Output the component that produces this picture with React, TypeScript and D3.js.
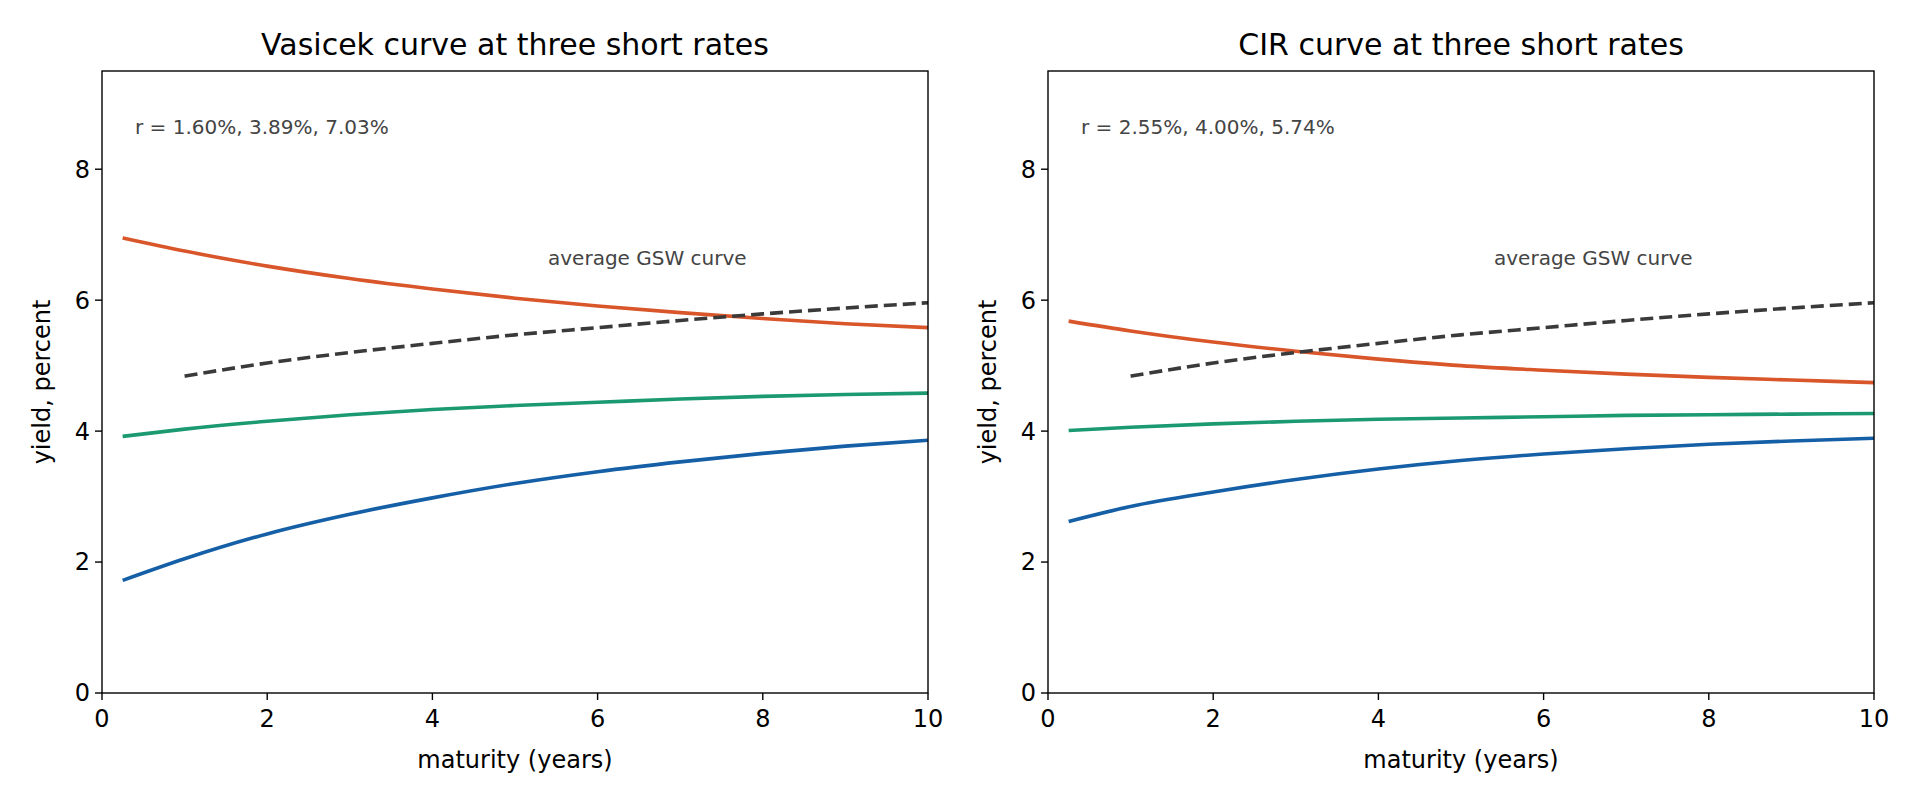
import * as d3 from "d3";

// maturities in years
const maturities = [0.25, 1, 2, 3, 4, 5, 6, 7, 8, 9, 10];
const gswMaturities = [1, 2, 3, 4, 5, 6, 7, 8, 9, 10];

const vasHigh = [6.95, 6.75, 6.52, 6.33, 6.17, 6.03, 5.91, 5.81, 5.72, 5.64, 5.58];
const vasMid = [3.92, 4.03, 4.15, 4.25, 4.33, 4.39, 4.44, 4.49, 4.53, 4.56, 4.58];
const vasLow = [1.72, 2.05, 2.43, 2.73, 2.98, 3.2, 3.38, 3.53, 3.66, 3.77, 3.86];

const cirHigh = [5.68, 5.53, 5.36, 5.22, 5.1, 5.0, 4.93, 4.87, 4.82, 4.78, 4.74];
const cirMid = [4.01, 4.06, 4.11, 4.15, 4.18, 4.2, 4.22, 4.24, 4.25, 4.26, 4.27];
const cirLow = [2.62, 2.85, 3.07, 3.26, 3.42, 3.55, 3.65, 3.73, 3.8, 3.85, 3.89];

const gswAvg = [4.84, 5.04, 5.2, 5.34, 5.47, 5.58, 5.69, 5.79, 5.88, 5.96];

const xTicks = [0, 2, 4, 6, 8, 10];
const yTicks = [0, 2, 4, 6, 8];

const RED = "#d9552a";
const GREEN = "#1b9a72";
const BLUE = "#155fa6";
const FONT = "DejaVu Sans, sans-serif";

interface PanelProps {
  left: number;
  title: string;
  note: string;
  high: number[];
  mid: number[];
  low: number[];
}

function Panel({ left, title, note, high, mid, low }: PanelProps) {
  const w = 826, top = 71, h = 622;
  const x = d3.scaleLinear().domain([0, 10]).range([0, w]);
  const y = d3.scaleLinear().domain([0, 9.5]).range([h, 0]);
  const line = (xs: number[], ys: number[]) =>
    d3.line<number>().x((_, i) => x(xs[i])).y((d) => y(d)).curve(d3.curveMonotoneX)(ys) || "";

  return (
    <g transform={`translate(${left},${top})`} fontFamily={FONT}>
      <text x={w / 2} y={-16} textAnchor="middle" fontSize={30}>{title}</text>
      <path d={line(maturities, high)} fill="none" stroke={RED} strokeWidth={3.6} />
      <path d={line(maturities, mid)} fill="none" stroke={GREEN} strokeWidth={3.6} />
      <path d={line(maturities, low)} fill="none" stroke={BLUE} strokeWidth={3.6} />
      <path d={line(gswMaturities, gswAvg)} fill="none" stroke="#3a3a3a" strokeWidth={3.6} strokeDasharray="13,6" />
      <text x={x(0.4)} y={y(8.65)} dy="0.35em" fontSize={20} fill="#444">{note}</text>
      <text x={x(5.4)} y={y(6.65)} dy="0.35em" fontSize={20} fill="#444">average GSW curve</text>
      <rect x={0} y={0} width={w} height={h} fill="none" stroke="#000" strokeWidth={1.4} />
      {xTicks.map((t) => (
        <g key={t} transform={`translate(${x(t)},${h})`}>
          <line y2={7} stroke="#000" strokeWidth={1.4} />
          <text y={26} textAnchor="middle" dy="0.35em" fontSize={24}>{t}</text>
        </g>
      ))}
      {yTicks.map((t) => (
        <g key={t} transform={`translate(0,${y(t)})`}>
          <line x2={-7} stroke="#000" strokeWidth={1.4} />
          <text x={-12} textAnchor="end" dy="0.35em" fontSize={24}>{t}</text>
        </g>
      ))}
      <text x={w / 2} y={h + 75} textAnchor="middle" fontSize={24}>maturity (years)</text>
      <text transform={`translate(-52,${h / 2}) rotate(-90)`} textAnchor="middle" fontSize={24}>yield, percent</text>
    </g>
  );
}

export default function App() {
  return (
    <svg width={1920} height={806} style={{ display: "block", margin: -8, background: "#fff" }}>
      <Panel left={102} title="Vasicek curve at three short rates" note="r = 1.60%, 3.89%, 7.03%"
        high={vasHigh} mid={vasMid} low={vasLow} />
      <Panel left={1048} title="CIR curve at three short rates" note="r = 2.55%, 4.00%, 5.74%"
        high={cirHigh} mid={cirMid} low={cirLow} />
    </svg>
  );
}
